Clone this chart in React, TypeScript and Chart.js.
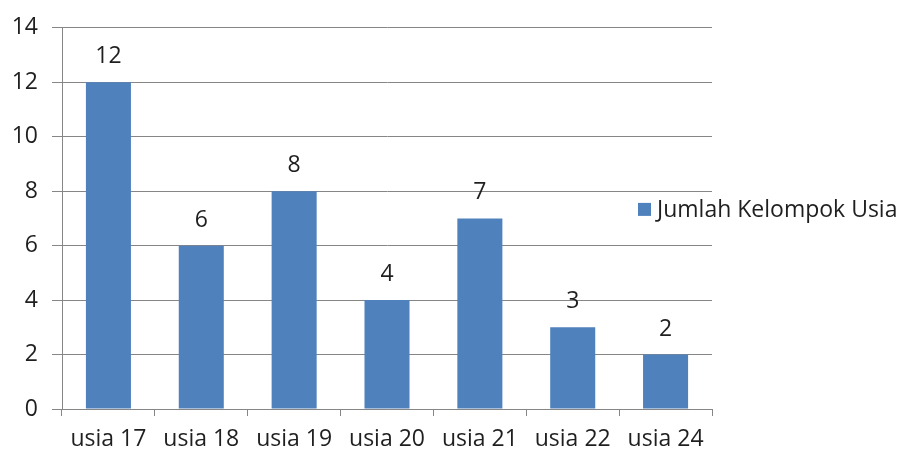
import React, { useEffect, useRef } from "react";
import { Chart, registerables } from "chart.js";

Chart.register(...registerables);

const categories = ["usia 17", "usia 18", "usia 19", "usia 20", "usia 21", "usia 22", "usia 24"];
const values = [12, 6, 8, 4, 7, 3, 2];
const seriesName = "Jumlah Kelompok Usia";
const yTicks = [0, 2, 4, 6, 8, 10, 12, 14];

const FONT = "'Open Sans', sans-serif";
const TEXT = "#1f1f1f";
const GRID = "#868686";
const BAR = "#4F81BD";

const labelsPlugin = {
  id: "valueLabels",
  afterDatasetsDraw(chart: any) {
    const ctx = chart.ctx;
    const meta = chart.getDatasetMeta(0);
    ctx.save();
    ctx.font = `23px ${FONT}`;
    ctx.fillStyle = TEXT;
    ctx.textAlign = "center";
    ctx.textBaseline = "alphabetic";
    meta.data.forEach((bar: any, i: number) => {
      ctx.fillText(String(values[i]), bar.x, bar.y - 19);
    });
    ctx.restore();
  },
};

const legendPlugin = {
  id: "sideLegend",
  afterDraw(chart: any) {
    const ctx = chart.ctx;
    const area = chart.chartArea;
    const x = area.right - 74;
    const cy = (area.top + area.bottom) / 2 - 9;
    ctx.save();
    ctx.fillStyle = BAR;
    ctx.fillRect(x, cy - 6.5, 13, 13);
    ctx.font = `23px ${FONT}`;
    ctx.fillStyle = TEXT;
    ctx.textAlign = "left";
    ctx.textBaseline = "middle";
    ctx.fillText(seriesName, x + 19, cy + 1);
    ctx.restore();
  },
};

export default function App() {
  const ref = useRef<HTMLCanvasElement | null>(null);
  useEffect(() => {
    document.body.style.margin = "0";
    if (!ref.current) return;
    const chart = new Chart(ref.current, {
      type: "bar",
      data: {
        labels: categories,
        datasets: [
          {
            label: seriesName,
            data: values,
            backgroundColor: BAR,
            borderWidth: 0,
            categoryPercentage: 1,
            barPercentage: 0.485,
          },
        ],
      },
      options: {
        animation: false,
        responsive: false,
        maintainAspectRatio: false,
        layout: { padding: { top: 11, right: 192, left: 0, bottom: 0 } },
        plugins: {
          legend: { display: false },
          tooltip: { enabled: false },
        },
        scales: {
          x: {
            offset: true,
            grid: {
              offset: true,
              drawOnChartArea: false,
              drawTicks: true,
              tickLength: 7,
              color: GRID,
            },
            border: { display: true, color: GRID, width: 1 },
            ticks: {
              font: { family: FONT, size: 23 },
              color: TEXT,
              padding: 10,
              maxRotation: 0,
              autoSkip: false,
            },
            afterFit(scale: any) {
              scale.height = 46;
            },
          },
          y: {
            min: 0,
            max: 14,
            afterBuildTicks(scale: any) {
              scale.ticks = yTicks.map((v) => ({ value: v }));
            },
            grid: { color: GRID, lineWidth: 1, tickLength: 10, drawTicks: true },
            border: { display: true, color: GRID, width: 1 },
            ticks: {
              font: { family: FONT, size: 23 },
              color: TEXT,
              padding: 14,
            },
            afterFit(scale: any) {
              scale.width = 62;
            },
          },
        },
      },
      plugins: [labelsPlugin, legendPlugin],
    });
    return () => chart.destroy();
  }, []);
  return (
    <div style={{ position: "absolute", left: 0, top: 0, width: 904, height: 455, background: "#fff" }}>
      <canvas ref={ref} width={904} height={455} style={{ width: 904, height: 455, display: "block" }} />
    </div>
  );
}
